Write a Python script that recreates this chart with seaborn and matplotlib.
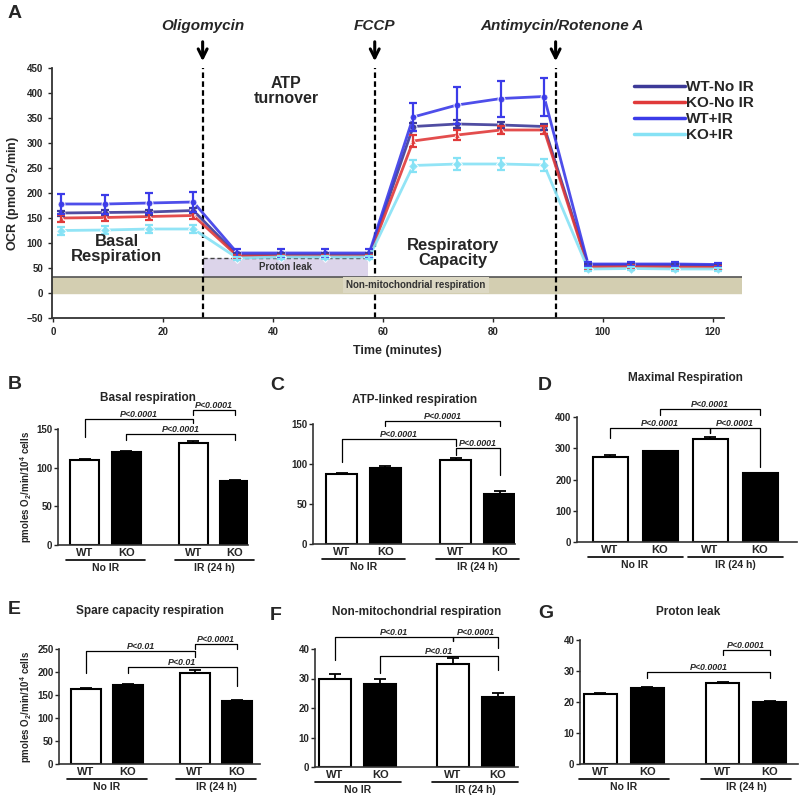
import numpy as np
import pandas as pd
import matplotlib
matplotlib.use("Agg")
import matplotlib.pyplot as plt
import seaborn as sns
from matplotlib.lines import Line2D
from matplotlib.patches import Rectangle

# ---- panel A: OCR time course ----
time = [1.5, 9.5, 17.5, 25.5, 33.5, 41.5, 49.5, 57.5, 65.5, 73.5, 81.5, 89.3, 97.3, 105.2, 113.1, 121.0]
groups = ["WT-No IR", "KO-No IR", "WT+IR", "KO+IR"]
wt_noir = [160, 161, 162, 165, 76, 76, 76, 76, 333, 338, 336, 333, 56, 56, 56, 55]
wt_noir_sem = [5, 5, 5, 5, 4, 4, 4, 4, 8, 8, 6, 6, 3, 3, 3, 3]
ko_noir = [150, 151, 153, 155, 74, 74, 74, 74, 304, 316, 326, 326, 52, 53, 52, 51]
ko_noir_sem = [7, 7, 7, 7, 3, 3, 3, 3, 12, 10, 8, 8, 3, 3, 3, 3]
wt_ir = [178, 178, 180, 182, 80, 80, 80, 80, 352, 376, 389, 393, 58, 58, 58, 57]
wt_ir_sem = [20, 19, 20, 20, 8, 8, 8, 8, 28, 37, 36, 38, 4, 4, 4, 4]
ko_ir = [125, 126, 128, 128, 70, 72, 72, 72, 255, 258, 258, 256, 48, 49, 48, 48]
ko_ir_sem = [8, 8, 8, 8, 3, 3, 3, 3, 12, 12, 12, 12, 3, 3, 3, 3]
injections = ["Oligomycin", "FCCP", "Antimycin/Rotenone A"]
injection_times = [27.2, 58.5, 91.4]

# ---- panels B-G: bar summaries ----
genotype = ["WT", "KO", "WT", "KO"]
treatment = ["No IR", "IR (24 h)"]
basal = [110, 120, 132.5, 83]
basal_sem = [1.5, 1.5, 1.5, 1.5]
atp = [87, 95, 105, 63]
atp_sem = [2, 2.5, 2.5, 3]
maximal = [273, 291, 329, 220]
maximal_sem = [4, 1.5, 8, 1.5]
spare = [163, 172, 197, 138]
spare_sem = [3, 1.5, 8, 1.5]
nonmito = [29.7, 28.3, 35, 23.6]
nonmito_sem = [1.7, 1.7, 1.9, 1.5]
proton = [22.6, 24.5, 26.1, 19.9]
proton_sem = [0.4, 0.4, 0.5, 0.4]

sns.set_theme(style="ticks")
plt.rcParams['font.family'] = ['Liberation Sans', 'DejaVu Sans']
plt.rcParams['font.weight'] = 'bold'
plt.rcParams['axes.labelweight'] = 'bold'
plt.rcParams['mathtext.fontset'] = 'custom'
plt.rcParams['mathtext.rm'] = 'Liberation Sans:bold'
plt.rcParams['mathtext.bf'] = 'Liberation Sans:bold'
plt.rcParams['mathtext.default'] = 'bf'

fig = plt.figure(figsize=(8, 7.99), dpi=100)


def px_axes(left, top, right, bottom):
    return fig.add_axes([left / 800, 1 - bottom / 799, (right - left) / 800, (bottom - top) / 799])


def fig_text(x, y, s, **kw):
    fig.text(x / 800, 1 - y / 799, s, **kw)


# ================= A =================
axA = px_axes(52, 68, 742, 318)
colors = {"WT-No IR": "#3d3a98", "KO-No IR": "#e03a3a", "WT+IR": "#3b3be8", "KO+IR": "#86e2f5"}
markers = {"WT-No IR": "o", "KO-No IR": "^", "WT+IR": "o", "KO+IR": "D"}
vals = [wt_noir, ko_noir, wt_ir, ko_ir]
sems = [wt_noir_sem, ko_noir_sem, wt_ir_sem, ko_ir_sem]
dfA = pd.DataFrame({
    "time": time * 4,
    "ocr": sum(vals, []),
    "group": np.repeat(groups, len(time)),
})

axA.axhspan(0, 33, color="#d3ceb1", zorder=0)
axA.axhline(33, color="#555555", lw=1.2, zorder=1)
axA.add_patch(Rectangle((injection_times[0], 33), 57.3 - injection_times[0], 38,
                        facecolor="#dcd4ea", edgecolor="none", zorder=0.5))
axA.plot([injection_times[0], 57.3], [71, 71], color="#444444", ls=(0, (3, 2)), lw=1, zorder=1)
axA.text(42.3, 52, "Proton leak", ha="center", va="center", fontsize=7, color="#333333")
axA.text(66, 16, "Non-mitochondrial respiration", ha="center", va="center", fontsize=7, color="#333333",
         bbox=dict(boxstyle="square,pad=0.3", facecolor="#dcd8c3", edgecolor="none"))

sns.lineplot(data=dfA, x="time", y="ocr", hue="group", style="group", palette=colors,
             markers=markers, dashes=False, markersize=5, linewidth=2, alpha=0.9,
             errorbar=None, legend=False, ax=axA, zorder=3)
for g, v, s in zip(groups, vals, sems):
    axA.errorbar(time, v, yerr=s, fmt="none", ecolor=colors[g], elinewidth=1.6,
                 capsize=3, capthick=1.6, zorder=3)

for lab, t in zip(injections, injection_times):
    axA.axvline(t, color="black", ls=(0, (2.5, 1.5)), lw=1.6, zorder=2)
    axA.annotate("", xy=(t, 458), xytext=(t, 508), annotation_clip=False,
                 arrowprops=dict(arrowstyle="->", lw=2.2, color="black", mutation_scale=16))
    axA.text(t + (1.1 if lab.startswith("Anti") else 0), 534, lab, ha="center", va="center",
             fontsize=11, fontstyle="italic", fontweight="bold", clip_on=False)

axA.text(11.6, 87, "Basal\nRespiration", ha="center", va="center", fontsize=12, linespacing=1.0)
axA.text(42.4, 404, "ATP\nturnover", ha="center", va="center", fontsize=11.5, linespacing=1.0)
axA.text(72.7, 80, "Respiratory\nCapacity", ha="center", va="center", fontsize=12, linespacing=1.0)

axA.set_xlim(-0.2, 125.3)
axA.set_ylim(-50, 450)
axA.set_xticks([0, 20, 40, 60, 80, 100, 120])
axA.set_yticks(np.arange(-50, 451, 50))
axA.tick_params(labelsize=7, length=3, width=1)
axA.spines["bottom"].set_bounds(-0.2, 122)
for sp in ["left", "bottom"]:
    axA.spines[sp].set_linewidth(1.3)
    axA.spines[sp].set_color("#333333")
sns.despine(ax=axA)
axA.set_xlabel("Time (minutes)", fontsize=9, labelpad=6)
axA.set_ylabel("OCR (pmol O$_2$/min)", fontsize=9, labelpad=4)
handles = [Line2D([0], [0], color=colors[g], lw=2.5) for g in groups]
axA.legend(handles, groups, loc="upper left", bbox_to_anchor=(0.835, 0.975), frameon=False,
           prop=dict(size=11, weight="bold"), handlelength=3.3, handletextpad=0.1,
           labelspacing=0.12, borderaxespad=0)
fig_text(8, 14, "A", fontsize=14, fontweight="bold", va="center")


# ================= B-G =================
def bracket(ax, x1, x2, y, y1, y2, label):
    ax.plot([x1, x1, x2, x2], [y1, y, y, y2], color="black", lw=0.9, clip_on=False)
    ax.text((x1 + x2) / 2, y, label, ha="center", va="bottom", fontsize=6.4,
            fontstyle="italic", fontweight="bold", clip_on=False)


gap = [0, 1, 2.6, 3.6]
even = [0, 1, 2, 3]
panels = [
    dict(box=(58, 429, 248, 545), v=basal, e=basal_sem, xs=gap, xlim=(-0.64, 3.91), ylim=150, step=50,
         title="Basal respiration", tpos=(148, 398), letter="B", lpos=(8, 384), ylabel=True,
         br=[(0, 2, 163, 140, 158, "P<0.0001"), (1, 3, 143.5, 136, 136, "P<0.0001"),
             (2, 3, 175, 168.6, 168.6, "P<0.0001")]),
    dict(box=(313, 424, 515, 544), v=atp, e=atp_sem, xs=gap, xlim=(-0.65, 3.95), ylim=150, step=50,
         title="ATP-linked respiration", tpos=(415, 400), letter="C", lpos=(270, 386), ylabel=False,
         br=[(0, 2, 130.8, 102, 122.8, "P<0.0001"), (1, 3, 154, 147, 148, "P<0.0001"),
             (2, 3, 120, 111.6, 86.5, "P<0.0001")]),
    dict(box=(577, 417, 797, 542), v=maximal, e=maximal_sem, xs=even, xlim=(-0.66, 3.74), ylim=400, step=100,
         title="Maximal Respiration", tpos=(685, 378), letter="D", lpos=(538, 385), ylabel=False,
         br=[(0, 2, 364.6, 332, 348.5, "P<0.0001"), (1, 3, 425.7, 407.5, 407.5, "P<0.0001"),
             (2, 3, 364.6, 348.5, 241, "P<0.0001")]),
    dict(box=(59, 649, 260, 764), v=spare, e=spare_sem, xs=gap, xlim=(-0.64, 4.15), ylim=250, step=50,
         title="Spare capacity respiration", tpos=(150, 611), letter="E", lpos=(8, 610), ylabel=True,
         br=[(0, 2, 245, 198, 232.6, "P<0.01"), (1, 3, 211, 198, 169, "P<0.01"),
             (2, 3, 261.6, 250, 250, "P<0.0001")]),
    dict(box=(315, 649, 518, 767), v=nonmito, e=nonmito_sem, xs=gap, xlim=(-0.44, 4.04), ylim=40, step=10,
         title="Non-mitochondrial respiration", tpos=(417, 612), letter="F", lpos=(270, 616), ylabel=False,
         br=[(0, 2, 44.2, 36.4, 42.6, "P<0.01"), (1, 3, 37.5, 32, 33, "P<0.01"),
             (2, 3, 44.2, 42.6, 40.3, "P<0.0001")]),
    dict(box=(580, 640, 798, 764), v=proton, e=proton_sem, xs=gap, xlim=(-0.43, 4.2), ylim=40, step=10,
         title="Proton leak", tpos=(688, 612), letter="G", lpos=(538, 613), ylabel=False,
         br=[(1, 3, 29.6, 27.9, 27.9, "P<0.0001"), (2, 3, 36.8, 35.2, 35.2, "P<0.0001")]),
]

for p in panels:
    ax = px_axes(*p["box"])
    xs = p["xs"]
    h_px = p["box"][3] - p["box"][1]
    df = pd.DataFrame({"pos": xs, "value": p["v"], "genotype": genotype})
    sns.barplot(data=df, x="pos", y="value", hue="genotype", native_scale=True,
                palette={"WT": "white", "KO": "black"}, edgecolor="black", linewidth=1.5,
                width=0.7, errorbar=None, legend=False, ax=ax)
    ax.errorbar(xs, p["v"], yerr=[np.zeros(4), p["e"]], fmt="none", ecolor="black",
                elinewidth=1.3, capsize=4, capthick=1.3, zorder=4)
    for b in p["br"]:
        i, j, y, y1, y2, lab = b
        bracket(ax, xs[i], xs[j], y, y1, y2, lab)
    ax.set_xlim(*p["xlim"])
    ax.set_ylim(0, p["ylim"])
    ax.set_yticks(np.arange(0, p["ylim"] + 1, p["step"]))
    ax.set_xticks(xs, genotype)
    ax.tick_params(axis="x", length=0, labelsize=8, pad=2)
    ax.tick_params(axis="y", length=3, width=1, labelsize=7, pad=1)
    ax.set_xlabel("")
    ax.set_ylabel("pmoles O$_2$/min/10$^4$ cells" if p["ylabel"] else "", fontsize=7, labelpad=2)
    sns.despine(ax=ax)
    for sp in ["left", "bottom"]:
        ax.spines[sp].set_linewidth(1.2)
        ax.spines[sp].set_color("#333333")
    trans = ax.get_xaxis_transform()
    for k, name in enumerate(treatment):
        a, b2 = xs[2 * k] - 0.45, xs[2 * k + 1] + 0.45
        ax.plot([a, b2], [-15 / h_px, -15 / h_px], color="black", lw=1.2, transform=trans, clip_on=False)
        ax.text((a + b2) / 2, -23 / h_px, name, ha="center", va="center", fontsize=7.5, transform=trans)
    fig_text(*p["tpos"], p["title"], fontsize=8.5, fontweight="bold", ha="center", va="center")
    fig_text(*p["lpos"], p["letter"], fontsize=14, fontweight="bold", va="center")

fig.savefig("out.png", dpi=100, facecolor="white")
